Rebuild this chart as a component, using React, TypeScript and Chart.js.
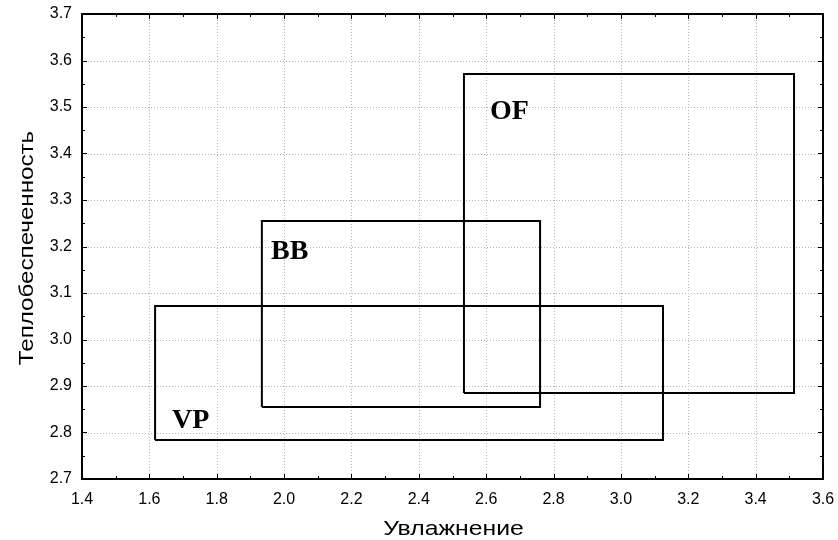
import React, { useEffect, useRef } from "react";
import { Chart, registerables } from "chart.js";

Chart.register(...registerables);

const groupNames = ["VP", "BB", "OF"];
const xMin = [1.617, 1.934, 2.534];
const xMax = [3.125, 2.76, 3.514];
const yMin = [2.784, 2.855, 2.885];
const yMax = [3.072, 3.255, 3.571];
const labelX = [1.667, 1.961, 2.611];
const labelY = [2.81, 3.173, 3.474];

const xTitle = "Увлажнение";
const yTitle = "Теплобеспеченность";

const SANS = "'Liberation Sans', Arial, sans-serif";

const framePlugin = {
  id: "frameTicks",
  beforeDatasetsDraw(chart: any) {
    const { ctx, chartArea: a, scales } = chart;
    const xs = scales.x;
    const ys = scales.y;
    ctx.save();
    ctx.strokeStyle = "#b4b4b4";
    ctx.lineWidth = 1;
    ctx.setLineDash([1, 2]);
    ctx.beginPath();
    xs.ticks.forEach((t: any) => {
      const px = Math.round(xs.getPixelForValue(t.value)) + 0.5;
      ctx.moveTo(px, a.top);
      ctx.lineTo(px, a.bottom);
    });
    ys.ticks.forEach((t: any) => {
      const py = Math.round(ys.getPixelForValue(t.value)) + 0.5;
      ctx.moveTo(a.left, py);
      ctx.lineTo(a.right, py);
    });
    ctx.stroke();
    ctx.restore();
  },
  afterDraw(chart: any) {
    const { ctx, chartArea: a, scales } = chart;
    const xs = scales.x;
    const ys = scales.y;
    ctx.save();
    ctx.strokeStyle = "#000";
    ctx.lineWidth = 1;
    ctx.beginPath();
    for (let i = 0; i <= 22; i++) {
      const v = 1.4 + i * 0.1;
      const px = Math.round(xs.getPixelForValue(v)) + 0.5;
      const len = i % 2 === 0 ? 5 : 3;
      ctx.moveTo(px, a.bottom);
      ctx.lineTo(px, a.bottom - len);
      ctx.moveTo(px, a.top);
      ctx.lineTo(px, a.top + len);
    }
    for (let i = 0; i <= 20; i++) {
      const v = 2.7 + i * 0.05;
      const py = Math.round(ys.getPixelForValue(v)) + 0.5;
      const len = i % 2 === 0 ? 5 : 3;
      ctx.moveTo(a.left, py);
      ctx.lineTo(a.left + len, py);
      ctx.moveTo(a.right, py);
      ctx.lineTo(a.right - len, py);
    }
    ctx.stroke();
    ctx.lineWidth = 2;
    ctx.strokeRect(a.left, a.top, a.right - a.left, a.bottom - a.top);
    ctx.fillStyle = "#000";
    ctx.font = "bold 28px 'Liberation Serif', 'Times New Roman', serif";
    ctx.textBaseline = "alphabetic";
    ctx.textAlign = "left";
    groupNames.forEach((n, i) => {
      ctx.fillText(n, xs.getPixelForValue(labelX[i]), ys.getPixelForValue(labelY[i]));
    });
    // axis titles (slightly wide lettering as in the reference)
    ctx.font = `21px ${SANS}`;
    ctx.textAlign = "center";
    ctx.save();
    ctx.translate((a.left + a.right) / 2 + 1, 535);
    ctx.scale(1.18, 1);
    ctx.fillText(xTitle, 0, 0);
    ctx.restore();
    ctx.save();
    ctx.translate(33, 248);
    ctx.rotate(-Math.PI / 2);
    ctx.scale(1.15, 1);
    ctx.fillText(yTitle, 0, 0);
    ctx.restore();
    ctx.restore();
  },
};

export default function App() {
  const ref = useRef<HTMLCanvasElement>(null);
  useEffect(() => {
    document.body.style.margin = "0";
    const datasets = groupNames.map((n, i) => ({
      label: n,
      data: [
        { x: xMin[i], y: yMin[i] },
        { x: xMax[i], y: yMin[i] },
        { x: xMax[i], y: yMax[i] },
        { x: xMin[i], y: yMax[i] },
        { x: xMin[i], y: yMin[i] },
      ],
      showLine: true,
      borderColor: "#000",
      borderWidth: 2,
      pointRadius: 0,
      fill: false,
      tension: 0,
    }));
    const tickFont = { family: SANS, size: 16 };
    const chart = new Chart(ref.current!, {
      type: "scatter",
      data: { datasets },
      options: {
        animation: false,
        responsive: false,
        layout: { padding: { top: 14, right: 15, left: 0, bottom: 0 } },
        plugins: { legend: { display: false }, tooltip: { enabled: false } },
        scales: {
          x: {
            type: "linear",
            min: 1.4,
            max: 3.6,
            ticks: {
              stepSize: 0.2,
              color: "#000",
              font: tickFont,
              padding: 11,
              callback: (v: any) => Number(v).toFixed(1),
            },
            grid: { display: false, drawTicks: false },
            border: { display: false },
            afterFit: (s: any) => {
              s.height = 61;
              s.paddingLeft = 0;
              s.paddingRight = 0;
            },
          },
          y: {
            type: "linear",
            min: 2.7,
            max: 3.7,
            ticks: {
              stepSize: 0.1,
              color: "#000",
              font: tickFont,
              padding: 10,
              callback: (v: any) => Number(v).toFixed(1),
            },
            grid: { display: false, drawTicks: false },
            border: { display: false },
            afterFit: (s: any) => {
              s.width = 82;
              s.paddingTop = 0;
              s.paddingBottom = 0;
            },
          },
        },
      },
      plugins: [framePlugin],
    });
    return () => chart.destroy();
  }, []);
  return <canvas ref={ref} width={838} height={540} style={{ display: "block" }} />;
}
